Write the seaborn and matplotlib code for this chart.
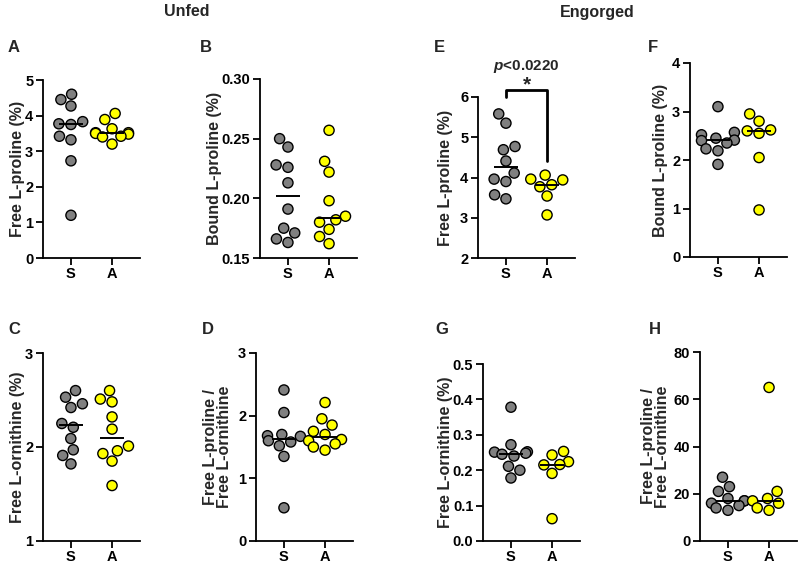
import matplotlib

matplotlib.use("Agg")
import matplotlib.pyplot as plt
import numpy as np
import pandas as pd
import seaborn as sns

GROUPS = ["S", "A"]
COLORS = {"S": "#808080", "A": "#ffff00"}

# panel data
A_S = [4.60, 4.45, 4.27, 3.83, 3.77, 3.75, 3.42, 3.32, 2.73, 1.20]
A_A = [4.06, 3.89, 3.63, 3.52, 3.52, 3.50, 3.48, 3.42, 3.40, 3.20]
B_S = [0.250, 0.243, 0.228, 0.226, 0.213, 0.191, 0.175, 0.171, 0.166, 0.163]
B_A = [0.257, 0.231, 0.222, 0.198, 0.185, 0.182, 0.180, 0.174, 0.168, 0.162]
E_S = [5.58, 5.35, 4.77, 4.69, 4.41, 4.11, 3.96, 3.90, 3.57, 3.47]
E_A = [4.06, 3.96, 3.94, 3.82, 3.77, 3.54, 3.07]
F_S = [3.10, 2.57, 2.52, 2.45, 2.41, 2.40, 2.35, 2.23, 2.19, 1.91]
F_A = [2.95, 2.80, 2.62, 2.60, 2.55, 2.05, 0.97]
C_S = [2.60, 2.53, 2.46, 2.42, 2.25, 2.21, 2.09, 1.97, 1.91, 1.82]
C_A = [2.60, 2.51, 2.48, 2.32, 2.19, 2.01, 1.96, 1.93, 1.85, 1.59]
D_S = [2.41, 2.05, 1.70, 1.68, 1.67, 1.60, 1.58, 1.52, 1.35, 0.53]
D_A = [2.21, 1.95, 1.85, 1.75, 1.70, 1.62, 1.60, 1.55, 1.50, 1.45]
G_S = [0.378, 0.272, 0.252, 0.251, 0.248, 0.245, 0.240, 0.211, 0.200, 0.178]
G_A = [0.253, 0.243, 0.224, 0.216, 0.215, 0.191, 0.063]
H_S = [27, 23, 21, 18, 17, 17, 16, 15, 14, 13]
H_A = [65, 21, 18, 17, 16, 14, 13]

RATIO_LABEL = "Free L-proline /\nFree L-ornithine"

sns.set_theme(style="ticks")
plt.rcParams["font.family"] = ["Liberation Sans", "DejaVu Sans"]
plt.rcParams["font.weight"] = "bold"
plt.rcParams["axes.labelweight"] = "bold"
plt.rcParams["mathtext.fontset"] = "custom"
plt.rcParams["mathtext.bf"] = "Liberation Sans:bold"
plt.rcParams["mathtext.bfit"] = "Liberation Sans:bold:italic"

W, H = 798, 566
fig = plt.figure(figsize=(W / 100, H / 100), dpi=100)


def panel(letter, s_vals, a_vals, left, top, bottom, ylim, yticks, fmt,
          ylabel, label_right, letter_x, letter_y, width=97):
    ax = fig.add_axes([left / W, 1 - bottom / H, width / W, (bottom - top) / H])
    df = pd.DataFrame({
        "group": ["S"] * len(s_vals) + ["A"] * len(a_vals),
        "value": list(s_vals) + list(a_vals),
    })
    sns.swarmplot(data=df, x="group", y="value", hue="group", order=GROUPS,
                  palette=COLORS, size=7.3, edgecolor="black", linewidth=1,
                  legend=False, ax=ax, zorder=3)
    for i, vals in enumerate([s_vals, a_vals]):
        ax.hlines(np.median(vals), i - 0.3, i + 0.3, color="black",
                  lw=1.4, zorder=4)
    ax.set_xlim(-0.68, 1.68)
    ax.set_ylim(*ylim)
    ax.set_yticks(yticks)
    ax.set_yticklabels([fmt.format(t) for t in yticks])
    ax.set_xlabel("")
    ax.set_ylabel(ylabel, fontsize=11.5, fontweight="bold", linespacing=0.95)
    ax.yaxis.set_label_coords((label_right - left) / width, 0.5)
    ax.tick_params(length=5, width=1.3, pad=2, labelsize=10.5, colors="black")
    ax.tick_params(axis="x", pad=1.5)
    for lab in ax.get_xticklabels() + ax.get_yticklabels():
        lab.set_fontweight("bold")
    sns.despine(ax=ax)
    for sp in ("left", "bottom"):
        ax.spines[sp].set_linewidth(1.3)
        ax.spines[sp].set_color("black")
    fig.text(letter_x / W, 1 - letter_y / H, letter, fontsize=12,
             fontweight="bold", ha="left", va="center")
    return ax


panel("A", A_S, A_A, 43, 80, 258, (0, 5), [0, 1, 2, 3, 4, 5], "{:.0f}",
      "Free L-proline (%)", 25, 8, 47)
panel("B", B_S, B_A, 260, 79, 258, (0.15, 0.30), [0.15, 0.20, 0.25, 0.30],
      "{:.2f}", "Bound L-proline (%)", 222, 200, 47)
ax_e = panel("E", E_S, E_A, 478, 97, 258, (2, 6), [2, 3, 4, 5, 6], "{:.0f}",
             "Free L-proline (%)", 453, 434, 47)
panel("F", F_S, F_A, 690, 63, 257, (0, 4), [0, 1, 2, 3, 4], "{:.0f}",
      "Bound L-proline (%)", 668, 648, 47)
panel("C", C_S, C_A, 43, 353, 541, (1, 3), [1, 2, 3], "{:.0f}",
      "Free L-ornithine (%)", 25, 8, 330)
panel("D", D_S, D_A, 256, 353, 541, (0, 3), [0, 1, 2, 3], "{:.0f}",
      RATIO_LABEL, 232, 202, 330)
panel("G", G_S, G_A, 483, 364, 541, (0, 0.5), [0, 0.1, 0.2, 0.3, 0.4, 0.5],
      "{:.1f}", "Free L-ornithine (%)", 453, 435, 330)
panel("H", H_S, H_A, 700, 352, 541, (0, 80), [0, 20, 40, 60, 80], "{:.0f}",
      RATIO_LABEL, 670, 649, 330)

# significance bracket on panel E
ax_e.plot([0, 0, 1, 1], [6.0, 6.17, 6.17, 4.4], color="black", lw=2,
          clip_on=False, zorder=5)
ax_e.text(0.5, 6.30, "*", ha="center", va="center", fontsize=15,
          fontweight="bold")
ax_e.text(0.5, 6.75, r"$\bfit{p}$<0.0220", ha="center", va="center",
          fontsize=11, fontweight="bold")

fig.text(187 / W, 1 - 12 / H, "Unfed", ha="center", va="center",
         fontsize=11.5, fontweight="bold")
fig.text(597 / W, 1 - 12 / H, "Engorged", ha="center", va="center",
         fontsize=11.5, fontweight="bold")

fig.savefig("out.png", dpi=100)
plt.close(fig)
